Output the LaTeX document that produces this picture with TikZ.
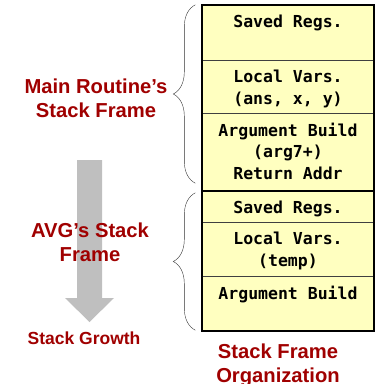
\documentclass[tikz,border=0pt]{standalone}
\usepackage{fontspec}
\setmainfont{Liberation Sans}
\setmonofont{DejaVu Sans Mono}
\usepackage{tikz}
\usetikzlibrary{shapes, fit, calc, decorations.pathreplacing}
\usepackage{xcolor}
\definecolor{framered}{RGB}{160,0,0}
\definecolor{cellyellow}{RGB}{255,255,192}

\begin{document}
\begin{tikzpicture}[x=1pt, y=-1pt]
	\tikzstyle{cell}=[
	draw=black!75,
	fill=cellyellow,
	rectangle,
	inner sep=0pt,
	minimum width=171pt]
	\tikzstyle{entry}=[
	anchor=north,
	align=center,
	inner sep=0pt,
	yshift=-10pt,
	font=\ttfamily\bfseries\fontsize{16.5}{21.5}\selectfont]
	\tikzstyle{title}=[
	align=center,
	inner sep=0pt,
	text=framered,
	font=\bfseries\fontsize{20.2}{24}\selectfont]
	\tikzstyle{curly}=[
	draw=black!80,
	decorate,
	decoration={brace, amplitude=22pt}]
	\useasboundingbox (0,0) rectangle (377,384);
	%
	\fill[black!25] (77,160) -- (102,160) -- (102,298) -- (114,298)
		-- (89.5,322) -- (65,298) -- (77,298) -- cycle;
	%
	\node[cell, minimum height=55pt] (c1) at (288,32.5) {};
	\node[cell, minimum height=53pt, below of=c1, node distance=54pt] (c2) {};
	\node[cell, minimum height=78pt, below of=c2, node distance=65.5pt] (c3) {};
	\node[cell, minimum height=31pt, below of=c3, node distance=54.5pt] (c4) {};
	\node[cell, minimum height=54pt, below of=c4, node distance=42.5pt] (c5) {};
	\node[cell, minimum height=55pt, below of=c5, node distance=54.5pt] (c6) {};
	\node[draw=black, line width=2pt, fit=(c1)(c6), inner sep=0pt] (stack) {};
	\draw[line width=2pt] (c3.south west) -- (c3.south east);
	%
	\node[entry] at (c1.north) {Saved Regs.};
	\node[entry] at (c2.north) {Local Vars.\\(ans, x, y)};
	\node[entry] at (c3.north) {Argument Build\\(arg7+)\\Return Addr};
	\node[entry] at (c4.north) {Saved Regs.};
	\node[entry] at (c5.north) {Local Vars.\\(temp)};
	\node[entry] at (c6.north) {Argument Build};
	%
	\path[curly] ([xshift=-7pt, yshift=8pt]c3.south west) -- ([xshift=-7pt]c1.north west);
	\path[curly] ([xshift=-7pt, yshift=1pt]c6.south west) -- ([xshift=-7pt, yshift=-2pt]c4.north west);
	%
	\node[title] (main) at (96,98.5) {Main Routine’s\\Stack Frame};
	\node[title] (avg) at (90,242.5) {AVG\char"27s Stack\\Frame};
	\node[title, font=\bfseries\fontsize{17.5}{21}\selectfont] (growth) at (84,338) {Stack Growth};
	\node[title] (org) at (278,365) {Stack Frame\\Organization};
\end{tikzpicture}
\end{document}
